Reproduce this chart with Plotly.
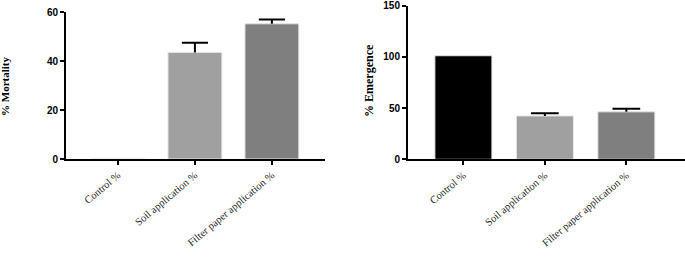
import plotly.graph_objects as go

categories = ["Control %", "Soil application %", "Filter paper application %"]
mortality = [0, 43.6, 55.3]
mortality_err = [0, 3.9, 1.8]
emergence = [101, 42.3, 46.3]
emergence_err = [0, 2.5, 2.9]
colors = ["#000000", "#a0a0a0", "#7f7f7f"]

pos = list(range(len(categories)))
CAP = 0.17  # half cap width in category units


def err_trace(vals, errs, xa, ya):
    xs, ys = [], []
    for p, v, e in zip(pos, vals, errs):
        if e <= 0:
            continue
        xs += [p, p, None, p - CAP, p + CAP, None]
        ys += [v, v + e, None, v + e, v + e, None]
    return go.Scatter(x=xs, y=ys, xaxis=xa, yaxis=ya, mode="lines",
                      line=dict(color="black", width=2),
                      showlegend=False, hoverinfo="skip")


fig = go.Figure()
fig.add_trace(go.Bar(
    x=pos, y=mortality, xaxis="x", yaxis="y", width=0.7,
    marker=dict(color=colors, line=dict(color="#e6e6e6", width=1)),
    showlegend=False))
fig.add_trace(err_trace(mortality, mortality_err, "x", "y"))
fig.add_trace(go.Bar(
    x=pos, y=emergence, xaxis="x2", yaxis="y2", width=0.7,
    marker=dict(color=colors, line=dict(color="#e6e6e6", width=1)),
    showlegend=False))
fig.add_trace(err_trace(emergence, emergence_err, "x2", "y2"))

W, H = 685, 262
tickfont = dict(family="Arial", size=10, color="black", weight="bold")
catfont = dict(family="Liberation Serif", size=10.5, color="#222")

common_x = dict(tickmode="array", tickvals=pos, ticktext=categories,
                showline=True, linecolor="black", linewidth=2,
                ticks="outside", ticklen=4, tickwidth=2, tickcolor="black",
                tickangle=-40, tickfont=catfont, showgrid=False, zeroline=False,
                automargin=False)
common_y = dict(showline=True, linecolor="black", linewidth=2, ticks="outside",
                ticklen=4, tickwidth=2, tickcolor="black", tickfont=tickfont,
                showgrid=False, zeroline=False, automargin=False,
                ticklabeloverflow="allow")

fig.update_layout(
    width=W, height=H,
    margin=dict(l=0, r=0, t=0, b=0),
    paper_bgcolor="white", plot_bgcolor="white",
    xaxis=dict(domain=[66 / W, 325 / W], range=[-0.675, 2.69], anchor="y", **common_x),
    yaxis=dict(domain=[(H - 159) / H, (H - 12.3) / H], range=[0, 60], dtick=20, anchor="x",
               **common_y),
    xaxis2=dict(domain=[408 / W, 1.0], range=[-0.68, 2.72], anchor="y2", **common_x),
    yaxis2=dict(domain=[(H - 159.3) / H, (H - 5.5) / H], range=[0, 150], dtick=50, anchor="x2",
                **common_y),
    annotations=[
        dict(text="% Mortality", x=5 / W, y=(H - 87) / H, xref="paper", yref="paper",
             textangle=-90, showarrow=False, xanchor="center", yanchor="middle",
             font=dict(family="Liberation Serif", size=11, color="black", weight="bold")),
        dict(text="% Emergence", x=369 / W, y=(H - 81) / H, xref="paper", yref="paper",
             textangle=-90, showarrow=False, xanchor="center", yanchor="middle",
             font=dict(family="Liberation Serif", size=12, color="black", weight="bold")),
    ],
)

fig.write_html("out.html", config={"displayModeBar": False},
               post_script="document.body.style.margin='0';document.body.style.overflow='hidden';")
